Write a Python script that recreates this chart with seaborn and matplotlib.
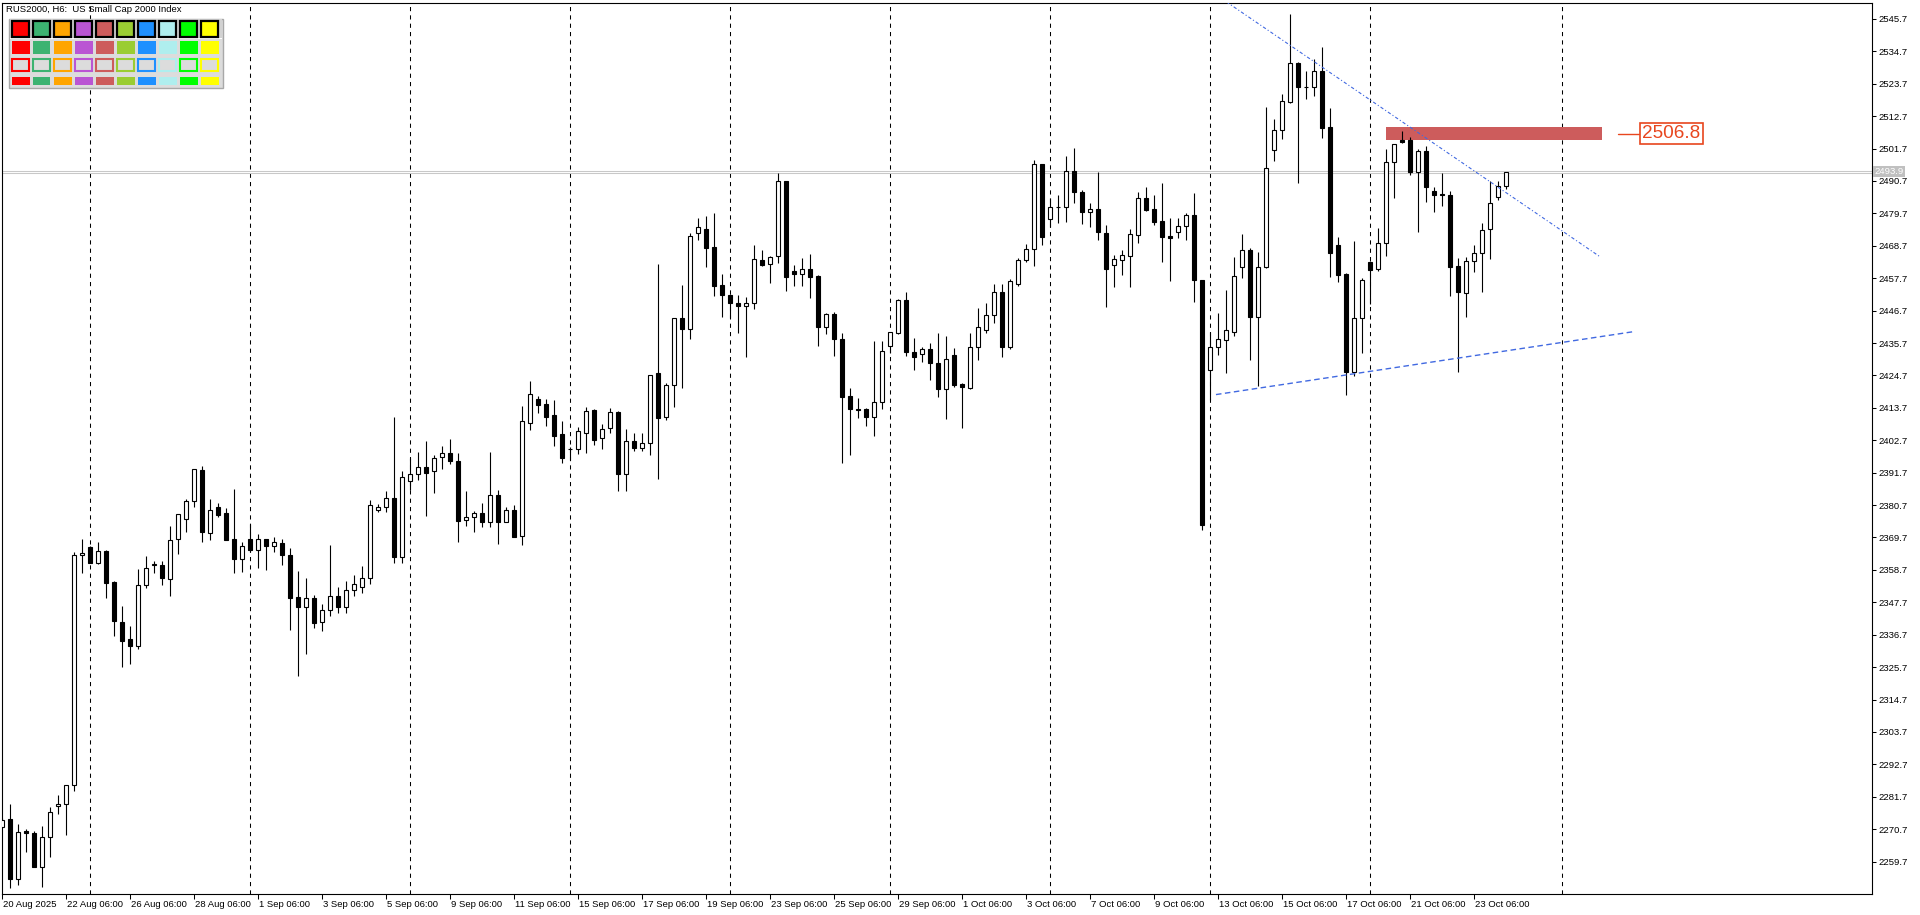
import numpy as np
import pandas as pd
import matplotlib
matplotlib.use("Agg")
import matplotlib.pyplot as plt
import matplotlib.transforms as mtransforms
from matplotlib.patches import Rectangle
from matplotlib import font_manager
import seaborn as sns

# RUS2000 H6 bars (one value per bar, left to right)
opens = [2271.6, 2274.1, 2253.7, 2270.1, 2269.3, 2258.0, 2268.2, 2278.4, 2279.2, 2285.6,
         2363.7, 2366.4, 2361.2, 2365.1, 2354.7, 2341.1, 2335.3, 2333.0, 2353.5, 2360.3,
         2360.3, 2355.5, 2369.1, 2375.9, 2382.0, 2392.5, 2371.1, 2380.0, 2377.9, 2369.1,
         2362.5, 2369.1, 2365.6, 2369.1, 2366.7, 2367.7, 2363.7, 2349.4, 2346.0, 2349.1,
         2341.0, 2345.0, 2350.0, 2346.0, 2352.0, 2353.0, 2356.0, 2378.9, 2380.0, 2383.0,
         2363.0, 2388.8, 2391.2, 2393.5, 2392.1, 2396.9, 2398.3, 2395.6, 2375.6, 2376.8,
         2377.9, 2374.8, 2384.0, 2374.8, 2378.9, 2370.3, 2408.7, 2416.7, 2414.9, 2411.2,
         2404.9, 2399.6, 2399.6, 2405.3, 2412.9, 2403.4, 2406.8, 2412.3, 2391.4, 2402.4,
         2400.2, 2401.7, 2425.4, 2410.7, 2421.4, 2444.1, 2440.6, 2473.2, 2474.4, 2468.3,
         2455.3, 2451.9, 2449.2, 2448.2, 2449.2, 2463.8, 2462.4, 2465.1, 2490.6, 2460.1,
         2459.0, 2460.7, 2458.5, 2441.3, 2445.6, 2437.0, 2417.6, 2413.4, 2413.4, 2410.5,
         2415.6, 2434.8, 2439.1, 2450.2, 2432.7, 2431.9, 2433.6, 2428.8, 2420.2, 2431.5,
         2421.7, 2420.6, 2434.3, 2440.0, 2445.1, 2452.9, 2434.5, 2455.8, 2463.8, 2467.5,
         2496.4, 2477.7, 2482.0, 2482.0, 2494.0, 2486.9, 2480.1, 2481.1, 2473.0, 2462.1,
         2464.0, 2465.4, 2472.5, 2485.0, 2481.1, 2477.0, 2472.0, 2473.4, 2475.3, 2479.1,
         2457.0, 2426.4, 2434.3, 2436.6, 2439.6, 2461.5, 2467.2, 2444.5, 2461.4, 2501.1,
         2507.9, 2517.6, 2530.8, 2522.6, 2522.6, 2527.9, 2508.9, 2469.0, 2459.2, 2425.7,
         2444.3, 2463.2, 2460.7, 2469.6, 2497.3, 2504.5, 2504.6, 2493.8, 2500.8, 2487.2,
         2486.2, 2486.0, 2462.0, 2452.6, 2463.4, 2466.2, 2474.3, 2485.1, 2488.9]
highs = [2274.5, 2279.3, 2272.5, 2270.7, 2270.1, 2271.8, 2278.2, 2282.2, 2285.6, 2364.8,
         2369.1, 2366.9, 2368.2, 2365.3, 2355.0, 2346.5, 2339.7, 2359.0, 2363.4, 2361.8,
         2361.8, 2373.6, 2377.8, 2382.7, 2393.0, 2394.0, 2382.8, 2381.4, 2379.7, 2386.2,
         2368.1, 2374.2, 2370.9, 2369.3, 2370.0, 2369.1, 2366.2, 2358.4, 2355.9, 2350.1,
         2347.0, 2367.0, 2353.0, 2355.0, 2357.0, 2360.0, 2382.5, 2381.1, 2385.5, 2410.6,
         2392.3, 2396.6, 2398.7, 2402.5, 2397.6, 2400.8, 2403.0, 2398.3, 2385.5, 2378.8,
         2381.3, 2398.7, 2385.8, 2380.2, 2380.6, 2414.3, 2422.8, 2417.7, 2416.7, 2416.4,
         2409.3, 2400.5, 2407.1, 2414.1, 2413.3, 2408.2, 2413.7, 2412.5, 2406.4, 2405.2,
         2405.2, 2425.0, 2462.5, 2422.0, 2444.3, 2455.4, 2473.0, 2478.0, 2478.8, 2479.9,
         2459.0, 2452.2, 2451.9, 2451.2, 2468.9, 2467.3, 2465.1, 2493.4, 2490.8, 2462.1,
         2464.5, 2465.8, 2458.7, 2446.0, 2446.3, 2439.2, 2420.5, 2417.2, 2413.6, 2436.4,
         2436.4, 2439.6, 2450.6, 2452.9, 2437.4, 2434.3, 2435.6, 2439.2, 2438.1, 2433.9,
         2422.0, 2439.2, 2447.5, 2449.2, 2455.8, 2455.8, 2457.3, 2464.5, 2469.2, 2497.8,
         2496.6, 2484.8, 2485.9, 2499.2, 2501.8, 2487.5, 2483.1, 2493.7, 2475.7, 2465.5,
         2467.3, 2474.4, 2486.9, 2488.6, 2486.0, 2490.1, 2478.2, 2478.1, 2479.8, 2486.7,
         2457.2, 2439.4, 2446.0, 2453.7, 2464.9, 2472.8, 2467.9, 2466.6, 2515.8, 2511.8,
         2520.3, 2547.5, 2531.0, 2527.9, 2532.2, 2536.2, 2515.4, 2471.7, 2459.4, 2470.3,
         2457.9, 2463.4, 2474.8, 2501.5, 2503.4, 2507.7, 2505.5, 2501.5, 2502.5, 2488.6,
         2493.4, 2487.2, 2464.4, 2464.9, 2469.0, 2476.3, 2490.6, 2490.6, 2493.6]
lows = [2271.0, 2250.7, 2251.6, 2263.1, 2257.7, 2251.2, 2261.1, 2275.9, 2268.8, 2283.8,
        2357.5, 2361.0, 2360.6, 2349.3, 2336.3, 2325.9, 2326.9, 2332.0, 2352.4, 2357.6,
        2353.7, 2350.0, 2364.2, 2371.7, 2379.9, 2368.3, 2368.9, 2376.8, 2369.0, 2357.8,
        2358.1, 2364.9, 2359.2, 2358.7, 2364.8, 2360.5, 2338.4, 2322.8, 2330.0, 2339.0,
        2338.0, 2343.0, 2344.0, 2344.0, 2350.0, 2351.0, 2354.0, 2378.2, 2378.5, 2361.0,
        2361.0, 2385.8, 2389.2, 2377.1, 2384.9, 2393.1, 2394.7, 2368.0, 2373.7, 2371.7,
        2373.4, 2373.1, 2367.5, 2374.8, 2370.0, 2367.2, 2406.2, 2412.0, 2407.7, 2400.6,
        2395.1, 2396.0, 2398.2, 2398.5, 2401.2, 2399.8, 2405.3, 2385.6, 2385.6, 2398.9,
        2399.2, 2397.8, 2389.4, 2409.7, 2414.1, 2420.6, 2437.0, 2470.5, 2461.6, 2451.8,
        2444.7, 2444.3, 2439.2, 2430.8, 2447.3, 2462.0, 2456.2, 2462.8, 2453.5, 2454.9,
        2455.2, 2451.1, 2434.8, 2438.8, 2431.4, 2395.1, 2397.8, 2410.4, 2407.7, 2404.3,
        2413.2, 2432.2, 2438.8, 2431.4, 2426.6, 2429.2, 2423.2, 2417.5, 2410.0, 2420.7,
        2406.7, 2420.2, 2430.1, 2439.0, 2442.6, 2431.1, 2433.8, 2455.1, 2463.1, 2462.0,
        2468.9, 2475.2, 2476.6, 2476.9, 2483.1, 2476.0, 2475.2, 2470.6, 2447.8, 2454.6,
        2458.8, 2454.8, 2469.7, 2480.6, 2475.8, 2463.3, 2456.9, 2471.2, 2470.6, 2449.7,
        2372.4, 2416.4, 2431.6, 2425.5, 2438.2, 2457.6, 2430.1, 2421.0, 2461.3, 2497.6,
        2504.9, 2517.0, 2490.0, 2518.5, 2519.7, 2505.2, 2458.2, 2456.4, 2418.0, 2424.5,
        2432.2, 2448.9, 2460.0, 2465.2, 2484.8, 2503.7, 2492.8, 2473.4, 2483.6, 2480.0,
        2482.2, 2451.5, 2425.7, 2444.5, 2459.8, 2453.0, 2464.2, 2484.3, 2487.9]
closes = [2273.9, 2253.7, 2269.7, 2269.3, 2258.0, 2268.0, 2276.5, 2279.2, 2285.6, 2363.7,
          2364.6, 2361.2, 2365.1, 2354.4, 2341.2, 2334.7, 2333.0, 2353.5, 2359.3, 2360.7,
          2355.8, 2368.8, 2377.6, 2382.0, 2392.9, 2371.4, 2378.9, 2377.5, 2369.0, 2362.5,
          2366.7, 2365.6, 2369.1, 2366.9, 2368.1, 2363.6, 2349.3, 2346.2, 2349.1, 2340.8,
          2345.0, 2350.0, 2346.0, 2352.0, 2354.0, 2356.0, 2380.6, 2380.0, 2383.0, 2363.0,
          2390.1, 2391.2, 2393.5, 2391.7, 2396.6, 2398.3, 2395.6, 2375.4, 2376.8, 2377.9,
          2374.8, 2384.0, 2375.1, 2378.9, 2370.0, 2409.1, 2418.3, 2414.8, 2410.7, 2404.3,
          2396.8, 2399.6, 2405.8, 2412.5, 2402.9, 2406.4, 2412.2, 2391.4, 2402.4, 2400.2,
          2401.7, 2424.8, 2410.1, 2421.4, 2444.1, 2440.6, 2472.0, 2475.2, 2468.1, 2455.2,
          2452.1, 2449.2, 2448.2, 2449.2, 2464.1, 2462.3, 2464.8, 2490.6, 2458.0, 2459.0,
          2460.7, 2458.2, 2441.3, 2445.6, 2436.9, 2417.5, 2413.4, 2412.8, 2410.7, 2415.6,
          2433.0, 2439.4, 2450.2, 2432.8, 2431.1, 2433.6, 2428.8, 2420.2, 2430.2, 2421.5,
          2420.9, 2434.3, 2441.1, 2445.1, 2452.9, 2434.5, 2456.7, 2463.8, 2467.5, 2496.4,
          2471.8, 2482.0, 2482.0, 2494.0, 2486.9, 2480.1, 2481.1, 2473.3, 2460.7, 2464.1,
          2465.6, 2472.6, 2484.9, 2480.9, 2476.9, 2471.8, 2471.3, 2475.3, 2479.1, 2457.2,
          2374.0, 2434.3, 2437.0, 2440.0, 2458.5, 2467.2, 2444.5, 2461.5, 2495.1, 2507.9,
          2517.7, 2530.7, 2522.7, 2522.6, 2527.9, 2508.6, 2466.4, 2458.9, 2425.7, 2444.3,
          2457.0, 2460.6, 2469.6, 2497.3, 2503.2, 2503.9, 2493.8, 2500.8, 2488.6, 2486.1,
          2485.8, 2461.6, 2453.1, 2463.4, 2466.2, 2474.0, 2483.2, 2489.0, 2493.6]

# time axis: one label every 8 bars
date_labels = ["20 Aug 2025", "22 Aug 06:00", "26 Aug 06:00", "28 Aug 06:00", "1 Sep 06:00",
               "3 Sep 06:00", "5 Sep 06:00", "9 Sep 06:00", "11 Sep 06:00", "15 Sep 06:00",
               "17 Sep 06:00", "19 Sep 06:00", "23 Sep 06:00", "25 Sep 06:00", "29 Sep 06:00",
               "1 Oct 06:00", "3 Oct 06:00", "7 Oct 06:00", "9 Oct 06:00", "13 Oct 06:00",
               "15 Oct 06:00", "17 Oct 06:00", "21 Oct 06:00", "23 Oct 06:00"]
label_step = 8
week_breaks = [11, 31, 51, 71, 91, 111, 131, 151, 171, 195]

price_ticks = [2259.7, 2270.7, 2281.7, 2292.7, 2303.7, 2314.7, 2325.7, 2336.7, 2347.7,
               2358.7, 2369.7, 2380.7, 2391.7, 2402.7, 2413.7, 2424.7, 2435.7, 2446.7,
               2457.7, 2468.7, 2479.7, 2490.7, 2501.7, 2512.7, 2523.7, 2534.7, 2545.7]
last_price = 2493.9

# drawn objects
upper_trend_x = [153.0, 199.8]
upper_trend_y = [2551.5, 2464.8]
lower_trend_x = [151.7, 204.0]
lower_trend_y = [2418.2, 2439.6]
zone_bars = [173, 200]
zone_prices = [2504.7, 2508.9]
zone_label = 2506.8

palette = ["#FF0000", "#3CB371", "#FFA500", "#BA55D3", "#CD5C5C",
           "#9ACD32", "#1E90FF", "#AFEEEE", "#00FF00", "#FFFF00"]

sns.set_style("white")
installed = {f.name for f in font_manager.fontManager.ttflist}
base_font = "Liberation Sans" if "Liberation Sans" in installed else "DejaVu Sans"
plt.rcParams["font.family"] = [base_font, "DejaVu Sans"]

W, H = 1920, 915
fig = plt.figure(figsize=(W / 100, H / 100), dpi=100)
ax = fig.add_axes([2 / W, 21 / H, 1870 / W, 891 / H])

df = pd.DataFrame({"open": opens, "high": highs, "low": lows, "close": closes})
df["bar"] = np.arange(len(df))
df["bull"] = df["close"] >= df["open"]
df["body_lo"] = df[["open", "close"]].min(axis=1)
df["body_h"] = (df["close"] - df["open"]).abs()

# weekly separators and last price line
for b in week_breaks:
    ax.axvline(b, color="black", lw=0.75, ls=(0, (4, 4)), zorder=1)
ax.axhline(last_price + 0.3, color="#C8C8C8", lw=0.75, zorder=1)
ax.axhline(last_price - 0.4, color="#C8C8C8", lw=0.75, zorder=1)

# resistance zone
ax.add_patch(Rectangle((zone_bars[0], zone_prices[0]), zone_bars[1] - zone_bars[0],
                       zone_prices[1] - zone_prices[0], fc="#CD5C5C", ec="none", zorder=1.5))

# candles
ax.vlines(df["bar"], df["low"], df["high"], color="black", lw=0.8, zorder=2)
bull = df[df["bull"]]
bear = df[~df["bull"]]
ax.bar(bull["bar"], bull["body_h"], bottom=bull["body_lo"], width=0.5,
       color="white", edgecolor="black", linewidth=0.8, zorder=3)
ax.bar(bear["bar"], bear["body_h"], bottom=bear["body_lo"], width=0.5,
       color="black", edgecolor="black", linewidth=0.8, zorder=3)

# trend lines
sns.lineplot(x=upper_trend_x, y=upper_trend_y, ax=ax, color="#4169E1", lw=0.8,
             linestyle=(0, (3, 2, 1, 2)), zorder=4)
sns.lineplot(x=lower_trend_x, y=lower_trend_y, ax=ax, color="#4169E1", lw=1.0,
             linestyle=(0, (4, 2.5)), zorder=4)

# zone price label
lbl_col = "#E8461E"
ax.plot([202.0, 204.6], [zone_label, zone_label], color=lbl_col, lw=1.0, zorder=4)
ax.text(205.0, zone_label, f"{zone_label:.1f}", ha="left", va="center", fontsize=13.7,
        color=lbl_col, zorder=5,
        bbox=dict(boxstyle="square,pad=0.12", fc="white", ec=lbl_col, lw=1.2))

ax.set_xlim(-0.04, 233.7)
ax.set_ylim(2248.7, 2551.1)

for s in ax.spines.values():
    s.set_color("black")
    s.set_linewidth(0.8)

ax.yaxis.tick_right()
ax.set_yticks(price_ticks)
ax.set_yticklabels([f"{v:.1f}" for v in price_ticks])
ax.tick_params(axis="y", right=True, left=False, direction="out", length=3, width=0.75,
               pad=1.5, labelsize=6.8, color="black", labelcolor="black")

label_bars = [k * label_step for k in range(len(date_labels))]
ax.set_xticks(label_bars)
ax.set_xticklabels(date_labels, ha="left")
ax.tick_params(axis="x", bottom=True, direction="out", length=3.5, width=0.75,
               pad=1, labelsize=6.8, color="black", labelcolor="black")
shift = mtransforms.ScaledTranslation(0.7 / 72, 0, fig.dpi_scale_trans)
for lbl in ax.get_xticklabels():
    lbl.set_transform(lbl.get_transform() + shift)

# last price tag on the price scale
ax.text(1.0012, last_price, f"{last_price:.1f}", transform=ax.get_yaxis_transform(),
        ha="left", va="center", fontsize=6.8, color="white", clip_on=False, zorder=6,
        bbox=dict(boxstyle="square,pad=0.12", fc="#C0C0C0", ec="none"))

# symbol caption
fig.text(6 / W, 1 - 12 / H, "RUS2000, H6:  US Small Cap 2000 Index", fontsize=6.8,
         ha="left", va="baseline", color="black")


def px_rect(x, y, w, h, **kw):
    fig.add_artist(Rectangle((x / W, 1 - (y + h) / H), w / W, h / H,
                             transform=fig.transFigure, **kw))


# colour panel in the corner
px_rect(8.5, 18.5, 214, 69, fc="#DCDCDC", ec="#A8A8A8", lw=1.0, zorder=7)
px_rect(9.5, 19.5, 212, 18.5, fc="#D2D2D2", ec="none", zorder=7)
px_rect(9.5, 38.0, 212, 1.0, fc="white", ec="none", zorder=7)
for k, c in enumerate(palette):
    x0 = 11.8 + 21.0 * k
    px_rect(x0, 21.0, 17.5, 16.0, fc=c, ec="black", lw=1.6, zorder=8)
    px_rect(x0, 40.7, 17.7, 13.6, fc=c, ec="none", zorder=8)
    px_rect(x0 + 0.6, 58.8, 16.5, 12.6, fc="#DCDCDC", ec=c, lw=1.5, zorder=8)
    px_rect(x0, 76.7, 17.7, 8.3, fc=c, ec="none", zorder=8)

fig.savefig("out.png", dpi=100)
